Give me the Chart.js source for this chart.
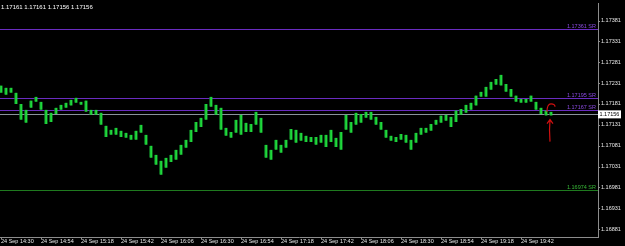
<!DOCTYPE html>
<html>
<head>
<meta charset="utf-8">
<script src="https://cdn.jsdelivr.net/npm/chart.js@4"></script>
<style>
    html, body { margin: 0; padding: 0; background: #000; }
    #wrap { width: 625px; height: 246px; }
</style>
</head>
<body>
<div id="wrap"><canvas id="priceChart"></canvas></div>
<script>
// Candle times (3 minute buckets), highs and lows
const times = [
    "14:30", "14:33", "14:36", "14:39", "14:42", "14:45", "14:48", "14:51", "14:54", "14:57",
    "15:00", "15:03", "15:06", "15:09", "15:12", "15:15", "15:18", "15:21", "15:24", "15:27",
    "15:30", "15:33", "15:36", "15:39", "15:42", "15:45", "15:48", "15:51", "15:54", "15:57",
    "16:00", "16:03", "16:06", "16:09", "16:12", "16:15", "16:18", "16:21", "16:24", "16:27",
    "16:30", "16:33", "16:36", "16:39", "16:42", "16:45", "16:48", "16:51", "16:54", "16:57",
    "17:00", "17:03", "17:06", "17:09", "17:12", "17:15", "17:18", "17:21", "17:24", "17:27",
    "17:30", "17:33", "17:36", "17:39", "17:42", "17:45", "17:48", "17:51", "17:54", "17:57",
    "18:00", "18:03", "18:06", "18:09", "18:12", "18:15", "18:18", "18:21", "18:24", "18:27",
    "18:30", "18:33", "18:36", "18:39", "18:42", "18:45", "18:48", "18:51", "18:54", "18:57",
    "19:00", "19:03", "19:06", "19:09", "19:12", "19:15", "19:18", "19:21", "19:24", "19:27",
    "19:30", "19:33", "19:36", "19:39", "19:42", "19:45", "19:48", "19:51", "19:54", "19:57",
    "20:00",
];
const highs = [
    1.17225, 1.17220, 1.17220, 1.17208, 1.17181, 1.17167, 1.17189, 1.17198, 1.17186, 1.17167,
    1.17160, 1.17172, 1.17179, 1.17184, 1.17191, 1.17196, 1.17186, 1.17189, 1.17167, 1.17167,
    1.17160, 1.17129, 1.17119, 1.17124, 1.17117, 1.17112, 1.17107, 1.17117, 1.17131, 1.17107,
    1.17081, 1.17059, 1.17045, 1.17052, 1.17059, 1.17071, 1.17083, 1.17095, 1.17119, 1.17138,
    1.17148, 1.17181, 1.17198, 1.17179, 1.17172, 1.17124, 1.17114, 1.17143, 1.17155, 1.17136,
    1.17133, 1.17162, 1.17148, 1.17083, 1.17071, 1.17095, 1.17083, 1.17095, 1.17121, 1.17119,
    1.17112, 1.17105, 1.17102, 1.17102, 1.17107, 1.17107, 1.17119, 1.17100, 1.17114, 1.17155,
    1.17138, 1.17160, 1.17157, 1.17162, 1.17162, 1.17150, 1.17138, 1.17119, 1.17105, 1.17102,
    1.17109, 1.17107, 1.17095, 1.17112, 1.17124, 1.17124, 1.17133, 1.17143, 1.17153, 1.17155,
    1.17150, 1.17165, 1.17169, 1.17179, 1.17184, 1.17201, 1.17210, 1.17222, 1.17234, 1.17241,
    1.17251, 1.17229, 1.17217, 1.17201, 1.17193, 1.17193, 1.17201, 1.17186, 1.17172, 1.17165,
    1.17162,
];
const lows = [
    1.17208, 1.17203, 1.17208, 1.17181, 1.17143, 1.17136, 1.17172, 1.17186, 1.17167, 1.17133,
    1.17138, 1.17157, 1.17167, 1.17172, 1.17177, 1.17184, 1.17179, 1.17162, 1.17155, 1.17155,
    1.17131, 1.17102, 1.17107, 1.17107, 1.17102, 1.17100, 1.17095, 1.17095, 1.17112, 1.17083,
    1.17052, 1.17035, 1.17011, 1.17028, 1.17042, 1.17047, 1.17059, 1.17076, 1.17090, 1.17114,
    1.17126, 1.17143, 1.17174, 1.17155, 1.17119, 1.17105, 1.17100, 1.17112, 1.17107, 1.17114,
    1.17114, 1.17131, 1.17112, 1.17052, 1.17047, 1.17071, 1.17064, 1.17076, 1.17095, 1.17088,
    1.17093, 1.17090, 1.17090, 1.17083, 1.17088, 1.17078, 1.17090, 1.17078, 1.17071, 1.17119,
    1.17112, 1.17131, 1.17136, 1.17148, 1.17143, 1.17131, 1.17119, 1.17100, 1.17093, 1.17090,
    1.17095, 1.17088, 1.17071, 1.17088, 1.17107, 1.17112, 1.17117, 1.17131, 1.17136, 1.17141,
    1.17126, 1.17138, 1.17155, 1.17160, 1.17167, 1.17177, 1.17198, 1.17198, 1.17215, 1.17227,
    1.17225, 1.17210, 1.17198, 1.17186, 1.17184, 1.17184, 1.17186, 1.17167, 1.17157, 1.17153,
    1.17153,
];

// Axis labels
const yTicks = [1.17381, 1.17331, 1.17281, 1.17231, 1.17181, 1.17131, 1.17081, 1.17031, 1.16981, 1.16931, 1.16881];
const xTickLabels = [
    "24 Sep 14:30", "24 Sep 14:54", "24 Sep 15:18", "24 Sep 15:42", "24 Sep 16:06", "24 Sep 16:30", "24 Sep 16:54",
    "24 Sep 17:18", "24 Sep 17:42", "24 Sep 18:06", "24 Sep 18:30", "24 Sep 18:54", "24 Sep 19:18", "24 Sep 19:42",
];

// Support / resistance lines and current quote
const srLevels = [1.17361, 1.17195, 1.17167, 1.16974];
const srLabels = ["1.17361 SR", "1.17195 SR", "1.17167 SR", "1.16974 SR"];
const bidPrice = 1.17156;
const headerQuote = ["1.17161", "1.17161", "1.17156", "1.17156"];

const FONT = "'Liberation Sans', Arial, sans-serif";
const FONT_SIZE = 5.5;
const srColors = ["#6a2cc0", "#6a2cc0", "#6a2cc0", "#1f7a1f"];
const srTextColors = ["#8a4ae0", "#8a4ae0", "#8a4ae0", "#37b837"];

// minutes since 14:30
const toMinutes = (hhmm) => {
    const [h, m] = hhmm.split(":").map(Number);
    return h * 60 + m - (14 * 60 + 30);
};
const tickMinutes = xTickLabels.map((label) => toMinutes(label.split(" ")[2]));

const overlays = {
    id: "overlays",
    beforeDatasetsDraw(chart) {
        const { ctx, chartArea, scales } = chart;
        const y = scales.y;
        ctx.save();
        // SR lines
        srLevels.forEach((level, i) => {
            const py = Math.round(y.getPixelForValue(level)) + 0.5;
            ctx.strokeStyle = srColors[i];
            ctx.lineWidth = 1;
            ctx.beginPath();
            ctx.moveTo(chartArea.left, py);
            ctx.lineTo(chartArea.right, py);
            ctx.stroke();
            ctx.fillStyle = srTextColors[i];
            ctx.font = FONT_SIZE + "px " + FONT;
            ctx.textAlign = "right";
            ctx.textBaseline = "bottom";
            ctx.fillText(srLabels[i], chartArea.right - 2, py - 0.5);
        });
        // bid line
        const by = Math.round(y.getPixelForValue(bidPrice)) + 0.5;
        ctx.strokeStyle = "#8a929c";
        ctx.beginPath();
        ctx.moveTo(chartArea.left, by);
        ctx.lineTo(chartArea.right, by);
        ctx.stroke();
        ctx.restore();
    },
    afterDraw(chart) {
        const { ctx, chartArea, scales } = chart;
        const y = scales.y;
        const x = scales.x;
        ctx.save();
        // small tick marks on both axes
        ctx.strokeStyle = "#8c8c8c";
        ctx.lineWidth = 1;
        ctx.beginPath();
        yTicks.forEach((v) => {
            const py = Math.round(y.getPixelForValue(v)) + 0.5;
            ctx.moveTo(chartArea.right, py);
            ctx.lineTo(chartArea.right + 2, py);
        });
        tickMinutes.forEach((v) => {
            const px = Math.round(x.getPixelForValue(v)) + 0.5;
            ctx.moveTo(px, chartArea.bottom);
            ctx.lineTo(px, chartArea.bottom + 2);
        });
        ctx.stroke();
        // current price box on the axis
        ctx.font = FONT_SIZE + "px " + FONT;
        const boxText = bidPrice.toFixed(5);
        const boxW = Math.ceil(ctx.measureText(boxText).width) + 3;
        const by = y.getPixelForValue(bidPrice);
        ctx.fillStyle = "#ffffff";
        ctx.fillRect(chartArea.right, by - 4, boxW, 8);
        ctx.fillStyle = "#000000";
        ctx.textAlign = "left";
        ctx.textBaseline = "middle";
        ctx.fillText(boxText, chartArea.right + 1.5, by + 0.5);
        // header quote
        ctx.fillStyle = "#ffffff";
        ctx.font = "6px " + FONT;
        ctx.fillText(headerQuote.join(" "), 1, 7.5);
        // red hand-drawn mark around the last candle
        const last = times.length - 1;
        const lx = x.getPixelForValue(toMinutes(times[last]));
        const ly = y.getPixelForValue(lows[last]);
        const hy = y.getPixelForValue(highs[last]);
        ctx.strokeStyle = "#d01010";
        ctx.lineWidth = 1.2;
        ctx.beginPath();
        ctx.moveTo(lx - 1, ly + 26);
        ctx.quadraticCurveTo(lx - 2, ly + 14, lx - 1, ly + 4);
        ctx.moveTo(lx - 4, ly + 8);
        ctx.lineTo(lx - 1, ly + 4);
        ctx.lineTo(lx + 2, ly + 8);
        ctx.moveTo(lx - 4, hy);
        ctx.quadraticCurveTo(lx - 4, hy - 8, lx, hy - 8);
        ctx.quadraticCurveTo(lx + 4, hy - 8, lx + 4, hy - 5);
        ctx.stroke();
        ctx.restore();
    },
};

new Chart(document.getElementById("priceChart"), {
    type: "bar",
    data: {
        datasets: [
            {
                data: times.map((t, i) => ({ x: toMinutes(t), y: [lows[i], highs[i]] })),
                backgroundColor: "#1fd83c",
                borderColor: "#138a2a",
                borderWidth: { left: 1, right: 0, top: 0, bottom: 0 },
                borderSkipped: false,
                barThickness: 3,
            },
        ],
    },
    options: {
        responsive: true,
        maintainAspectRatio: false,
        animation: false,
        layout: { padding: { top: 3, left: 0, right: 0, bottom: 0 } },
        plugins: {
            legend: { display: false },
            tooltip: { enabled: false },
        },
        scales: {
            x: {
                type: "linear",
                offset: false,
                min: -0.6,
                max: 358.2,
                grid: { display: false, drawTicks: false, tickLength: 0 },
                border: { color: "#8c8c8c" },
                afterBuildTicks: (scale) => {
                    scale.ticks = tickMinutes.map((v) => ({ value: v }));
                },
                afterFit: (scale) => {
                    scale.height = 9;
                    scale.paddingLeft = 0;
                    scale.paddingRight = 0;
                },
                ticks: {
                    autoSkip: false,
                    maxRotation: 0,
                    align: "start",
                    padding: 1.5,
                    color: "#e8e8e8",
                    font: { family: FONT, size: FONT_SIZE },
                    callback: (value) => xTickLabels[tickMinutes.indexOf(value)] || "",
                },
            },
            y: {
                position: "right",
                min: 1.16862,
                max: 1.17423,
                grid: { display: false, drawTicks: false, tickLength: 0 },
                border: { color: "#8c8c8c" },
                afterBuildTicks: (scale) => {
                    scale.ticks = yTicks.map((v) => ({ value: v }));
                },
                afterFit: (scale) => {
                    scale.width = 27;
                    scale.paddingTop = 0;
                    scale.paddingBottom = 0;
                },
                ticks: {
                    padding: 3,
                    color: "#e8e8e8",
                    font: { family: FONT, size: FONT_SIZE },
                    callback: (value) => value.toFixed(5),
                },
            },
        },
    },
    plugins: [overlays],
});
</script>
</body>
</html>
